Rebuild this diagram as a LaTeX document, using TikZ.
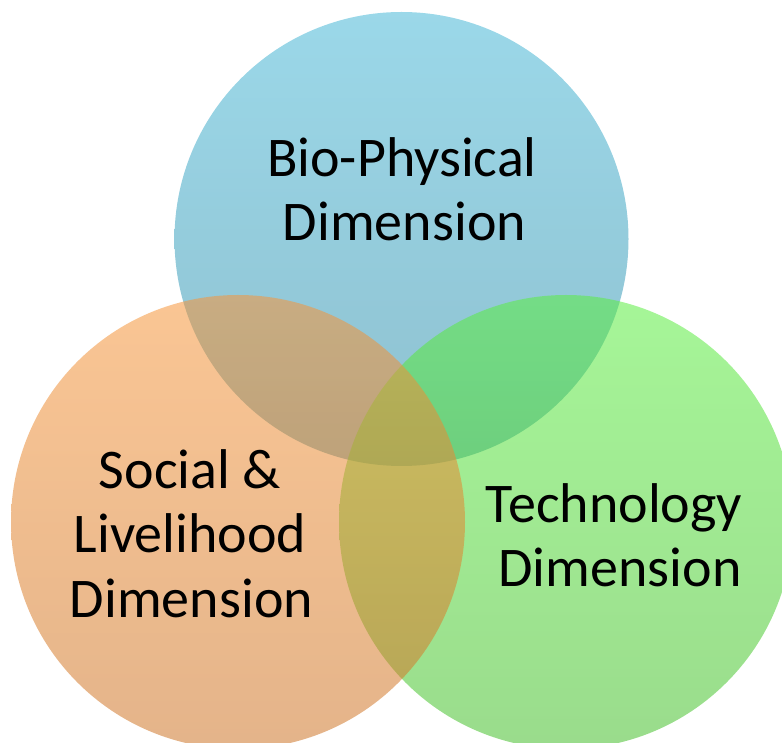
\documentclass[tikz,border=0pt]{standalone}
\usepackage{fontspec}
\setmainfont{Carlito}
\begin{document}
\definecolor{bluetop}{RGB}{70,183,214}
\definecolor{bluebot}{RGB}{46,138,166}
\definecolor{orangetop}{RGB}{246,149,57}
\definecolor{orangebot}{RGB}{205,116,38}
\definecolor{greentop}{RGB}{90,238,64}
\definecolor{greenbot}{RGB}{68,190,42}
\begin{tikzpicture}[x=1pt,y=1pt,
  setcircle/.style={circle, draw=none, inner sep=0pt, minimum size=454pt, fill opacity=0.54},
  lbl/.style={anchor=base, inner sep=0pt, font=\fontsize{56}{64.5}\selectfont, text=black}]
  \useasboundingbox (0,0) rectangle (782,742);
  \clip (0,0) rectangle (782,742);
  % the three sets, drawn back to front
  \node[setcircle, top color=bluetop, bottom color=bluebot] (bio) at (401.5,503) {};
  \node[setcircle, top color=greentop, bottom color=greenbot] (tech) at (566,220) {};
  \node[setcircle, top color=orangetop, bottom color=orangebot] (soc) at (238,220) {};
  % labels
  \node[lbl] (bioA) at (402,565.3) {Bio-Physical};
  \node[lbl] (bioB) at (404.5,501) {Dimension};
  \node[lbl] (socA) at (190,253) {Social \&};
  \node[lbl] (socB) at (190,189) {Livelihood};
  \node[lbl] (socC) at (191.5,124) {Dimension};
  \node[lbl] (techA) at (614,219.3) {Technology};
  \node[lbl] (techB) at (620,155) {Dimension};
\end{tikzpicture}
\end{document}
